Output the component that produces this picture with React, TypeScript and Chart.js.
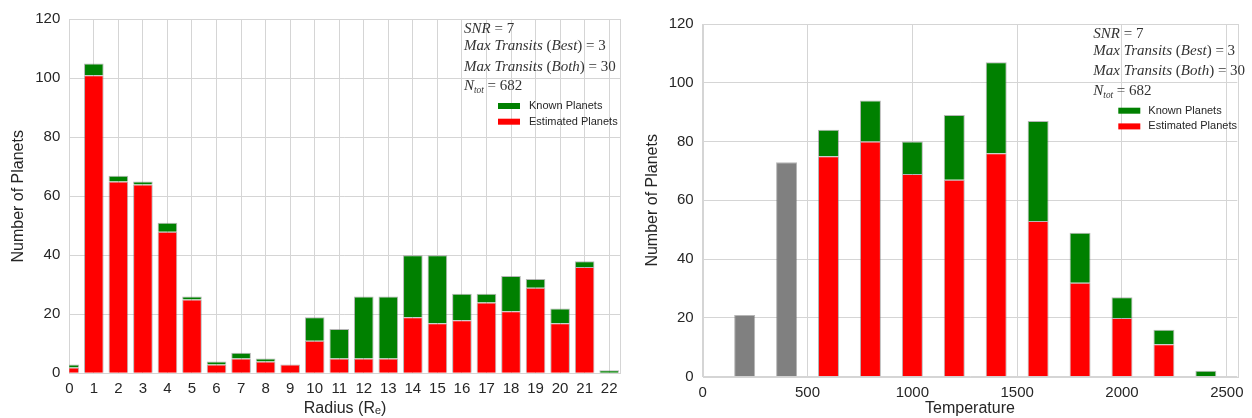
import React, { useEffect, useRef } from "react";
import { Chart, registerables } from "chart.js";

Chart.register(...registerables);

// ---------- Data ----------
const radiusBins = [0, 1, 2, 3, 4, 5, 6, 7, 8, 9, 10, 11, 12, 13, 14, 15, 16, 17, 18, 19, 20, 21, 22];
const radiusEstimated = [2, 101, 65, 64, 48, 25, 3, 5, 4, 3, 11, 5, 5, 5, 19, 17, 18, 24, 21, 29, 17, 36, 0];
const radiusKnown = [1, 4, 2, 1, 3, 1, 1, 2, 1, 0, 8, 10, 21, 21, 21, 23, 9, 3, 12, 3, 5, 2, 1];
const radiusTicks = [0, 1, 2, 3, 4, 5, 6, 7, 8, 9, 10, 11, 12, 13, 14, 15, 16, 17, 18, 19, 20, 21, 22];

const tempBins = [600, 800, 1000, 1200, 1400, 1600, 1800, 2000, 2200, 2400];
const tempEstimated = [75, 80, 69, 67, 76, 53, 32, 20, 11, 0];
const tempKnown = [9, 14, 11, 22, 31, 34, 17, 7, 5, 2];
const tempGrayBins = [0, 200, 400];
const tempGrayCounts = [0, 21, 73];
const tempTicks = [0, 500, 1000, 1500, 2000, 2500];

const countTicks = [0, 20, 40, 60, 80, 100, 120];
const legendLabels = ["Known Planets", "Estimated Planets"];
const yTitle = "Number of Planets";
const radiusTitle = "Radius (Rₑ)";
const tempTitle = "Temperature";

type Seg = [string, "it" | "rm" | "sub"];
const annotationLines: Seg[][] = [
  [["SNR", "it"], [" = 7", "rm"]],
  [["Max Transits", "it"], [" (", "rm"], ["Best", "it"], [") = 3", "rm"]],
  [["Max Transits", "it"], [" (", "rm"], ["Both", "it"], [") = 30", "rm"]],
  [["N", "it"], ["tot", "sub"], [" = 682", "rm"]],
];

// ---------- Styles ----------
const GREEN = "#008000";
const RED = "#ff0000";
const GRAY = "#808080";
const EDGE = "rgba(110,110,110,0.5)";
const GRID = "#d5d5d5";
const TEXT = "#262626";
const SANS = '"Liberation Sans", Arial, sans-serif';
const SERIF = '"Liberation Serif", "DejaVu Serif", serif';

const overlay = {
  id: "overlay",
  beforeDatasetsDraw(chart: any) {
    const { ctx, chartArea: a } = chart;
    ctx.save();
    ctx.strokeStyle = GRID;
    ctx.lineWidth = 1;
    ctx.strokeRect(Math.round(a.left) + 0.5, Math.round(a.top) + 0.5, Math.round(a.right - a.left), Math.round(a.bottom - a.top));
    ctx.restore();
  },
  afterDraw(chart: any, _args: any, opts: any) {
    const { ctx, chartArea: a } = chart;
    ctx.save();
    ctx.fillStyle = "#333";
    ctx.textBaseline = "alphabetic";
    ctx.textAlign = "left";
    const size = 15;
    const offsets = [13.5, 30.5, 51.3, 70.8];
    annotationLines.forEach((segs, i) => {
      let x = a.right - opts.textFromRight;
      const y = a.top + offsets[i];
      for (const [t, style] of segs) {
        const sub = style === "sub";
        const fs = sub ? size * 0.62 : size;
        ctx.font = `${style === "rm" ? "" : "italic "}${fs}px ${SERIF}`;
        ctx.fillText(t, x, sub ? y + 3 : y);
        x += ctx.measureText(t).width;
      }
    });
    // legend
    const colors = [GREEN, RED];
    const ly = [86.7, 102.4];
    ctx.font = `11px ${SANS}`;
    ctx.textBaseline = "middle";
    legendLabels.forEach((lab, i) => {
      const cy = a.top + ly[i];
      ctx.fillStyle = colors[i];
      ctx.fillRect(a.right - opts.swatchFromRight, cy - 3, 22, 6);
      ctx.fillStyle = TEXT;
      ctx.fillText(lab, a.right - opts.labelFromRight, cy);
    });
    ctx.restore();
  },
};

function makeConfig(kind: "radius" | "temp"): any {
  const isR = kind === "radius";
  const datasets: any[] = [];
  const common = { borderWidth: 1, borderColor: EDGE, clip: 0, categoryPercentage: 1, barPercentage: isR ? 0.8 : 0.5 };
  if (!isR) {
    datasets.push({
      ...common,
      label: "Gray",
      data: tempGrayBins.map((x, i) => ({ x, y: tempGrayCounts[i] })),
      backgroundColor: GRAY,
    });
  }
  const bins = isR ? radiusBins : tempBins;
  const est = isR ? radiusEstimated : tempEstimated;
  const known = isR ? radiusKnown : tempKnown;
  datasets.push({
    ...common,
    label: legendLabels[1],
    data: bins.map((x, i) => ({ x, y: est[i] })),
    backgroundColor: RED,
  });
  datasets.push({
    ...common,
    label: legendLabels[0],
    data: bins.map((x, i) => ({ x, y: known[i] })),
    backgroundColor: GREEN,
  });
  const ticks = isR ? radiusTicks : tempTicks;
  return {
    type: "bar",
    data: { datasets },
    plugins: [overlay],
    options: {
      animation: false,
      responsive: false,
      devicePixelRatio: 1,
      layout: {
        padding: isR
          ? { left: 0, top: 19.3, right: 5.3, bottom: 0 }
          : { left: 8, top: 24, right: 14.7, bottom: 0 },
      },
      plugins: {
        legend: { display: false },
        tooltip: { enabled: false },
        overlay: isR
          ? { textFromRight: 156.7, swatchFromRight: 122.7, labelFromRight: 91.7 }
          : { textFromRight: 144, swatchFromRight: 119, labelFromRight: 89 },
      },
      scales: {
        x: {
          type: "linear",
          stacked: true,
          offset: false,
          min: 0,
          max: isR ? 22.47 : 2550,
          afterBuildTicks: (s: any) => {
            s.ticks = ticks.map((v) => ({ value: v }));
          },
          afterFit: (s: any) => {
            s.height = isR ? 44.7 : 41.3;
          },
          grid: { color: GRID, lineWidth: 1, drawTicks: false, offset: false },
          border: { display: false },
          ticks: {
            color: TEXT,
            font: { family: SANS, size: 15 },
            padding: 7,
            maxRotation: 0,
            autoSkip: false,
            callback: (v: any) => String(v),
          },
          title: {
            display: true,
            text: isR ? radiusTitle : tempTitle,
            color: TEXT,
            font: { family: SANS, size: 16 },
            padding: { top: 0, bottom: 0 },
          },
        },
        y: {
          type: "linear",
          stacked: true,
          min: 0,
          max: 120,
          afterBuildTicks: (s: any) => {
            s.ticks = countTicks.map((v) => ({ value: v }));
          },
          afterFit: (s: any) => {
            s.width = isR ? 69.3 : 68.7;
          },
          grid: { color: GRID, lineWidth: 1, drawTicks: false },
          border: { display: false },
          ticks: {
            color: TEXT,
            font: { family: SANS, size: 15 },
            padding: 9,
          },
          title: {
            display: true,
            text: yTitle,
            color: TEXT,
            font: { family: SANS, size: 16 },
            padding: { top: 9, bottom: 0 },
          },
        },
      },
    },
  };
}

function PlanetChart({ kind }: { kind: "radius" | "temp" }) {
  const ref = useRef<HTMLCanvasElement>(null);
  useEffect(() => {
    if (!ref.current) return;
    const chart = new Chart(ref.current, makeConfig(kind));
    return () => chart.destroy();
  }, [kind]);
  return <canvas ref={ref} width={626} height={418} style={{ display: "block", width: 626, height: 418 }} />;
}

export default function App() {
  return (
    <div style={{ position: "fixed", left: 0, top: 0, width: 1252, height: 418, background: "#fff", overflow: "hidden" }}>
      <div style={{ position: "absolute", left: 0, top: 0, width: 626, height: 418 }}>
        <PlanetChart kind="radius" />
      </div>
      <div style={{ position: "absolute", left: 626, top: 0, width: 626, height: 418 }}>
        <PlanetChart kind="temp" />
      </div>
    </div>
  );
}
